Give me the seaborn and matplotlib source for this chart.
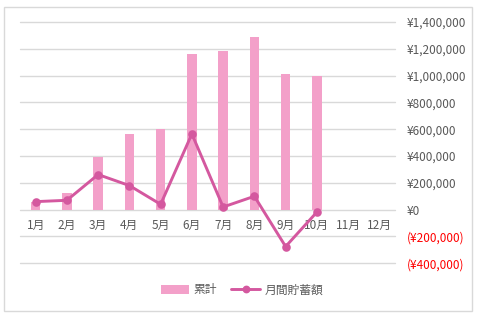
import matplotlib
matplotlib.use("Agg")
import matplotlib.pyplot as plt
import seaborn as sns
import pandas as pd
from matplotlib.patches import Patch, Rectangle
from matplotlib.lines import Line2D
from matplotlib.ticker import FuncFormatter

months = ["1月", "2月", "3月", "4月", "5月", "6月", "7月", "8月", "9月", "10月", "11月", "12月"]
data_months = months[:10]
cumulative = [60000, 125000, 390000, 565000, 600000, 1165000, 1185000, 1285000, 1010000, 997000]
monthly = [60000, 70000, 262000, 180000, 40000, 565000, 20000, 100000, -275000, -18000]
y_ticks = [-400000, -200000, 0, 200000, 400000, 600000, 800000, 1000000, 1200000, 1400000]
series_names = ["累計", "月間貯蓄額"]

bar_color = "#F3A0C9"
line_color = "#D4589F"
text_color = "#595959"
grid_color = "#D9D9D9"

sns.set_theme(style="white")
plt.rcParams["font.family"] = ["Noto Sans CJK JP", "DejaVu Sans"]

df = pd.DataFrame({"month": data_months, "cum": cumulative, "mon": monthly})

fig = plt.figure(figsize=(4.8, 3.14), dpi=100)
ax = fig.add_axes([20 / 480, 1 - 263.3 / 314, 375 / 480, (263.3 - 22) / 314])

sns.barplot(data=df, x="month", y="cum", order=months, color=bar_color,
            width=0.3, saturation=1, edgecolor="none", ax=ax, zorder=2)
sns.pointplot(data=df, x="month", y="mon", order=months, color=line_color,
              linewidth=2.1, markersize=4.6, ax=ax, zorder=3)

ax.set_ylim(-400000, 1400000)
ax.set_yticks(y_ticks)
ax.yaxis.tick_right()
ax.yaxis.grid(True, color=grid_color, linewidth=1, zorder=0)
ax.set_axisbelow(True)
for gl in ax.yaxis.get_gridlines():
    gl.set_clip_on(False)

def fmt(v, pos):
    v = int(round(v))
    if v < 0:
        return "(¥{:,})".format(-v)
    return "¥{:,}".format(v)

ax.yaxis.set_major_formatter(FuncFormatter(fmt))
ax.tick_params(axis="y", length=0, pad=8.5, labelsize=8.5, labelcolor=text_color)
for lbl, v in zip(ax.get_yticklabels(), y_ticks):
    if v < 0:
        lbl.set_color("#FF0000")

ax.spines["bottom"].set_position(("data", 0))
for s in ax.spines.values():
    s.set_visible(False)
ax.tick_params(axis="x", length=0, pad=7, labelsize=8.5, labelcolor=text_color)
ax.set_xlabel("")
ax.set_ylabel("")

handles = [Patch(facecolor=bar_color, edgecolor="none"),
           Line2D([0], [0], color=line_color, linewidth=2.1, marker="o", markersize=4.6)]
fig.legend(handles, series_names, loc="center", bbox_to_anchor=(242 / 480, 1 - 290 / 314),
           ncol=2, frameon=False, fontsize=8.5, labelcolor=text_color,
           handlelength=2.4, handleheight=0.7, columnspacing=1.2, handletextpad=0.4)

fig.patches.append(Rectangle((4 / 480, 1 - 311 / 314), 468 / 480, 304 / 314,
                             transform=fig.transFigure, fill=False,
                             edgecolor=grid_color, linewidth=1))

fig.savefig("out.png", dpi=100)
